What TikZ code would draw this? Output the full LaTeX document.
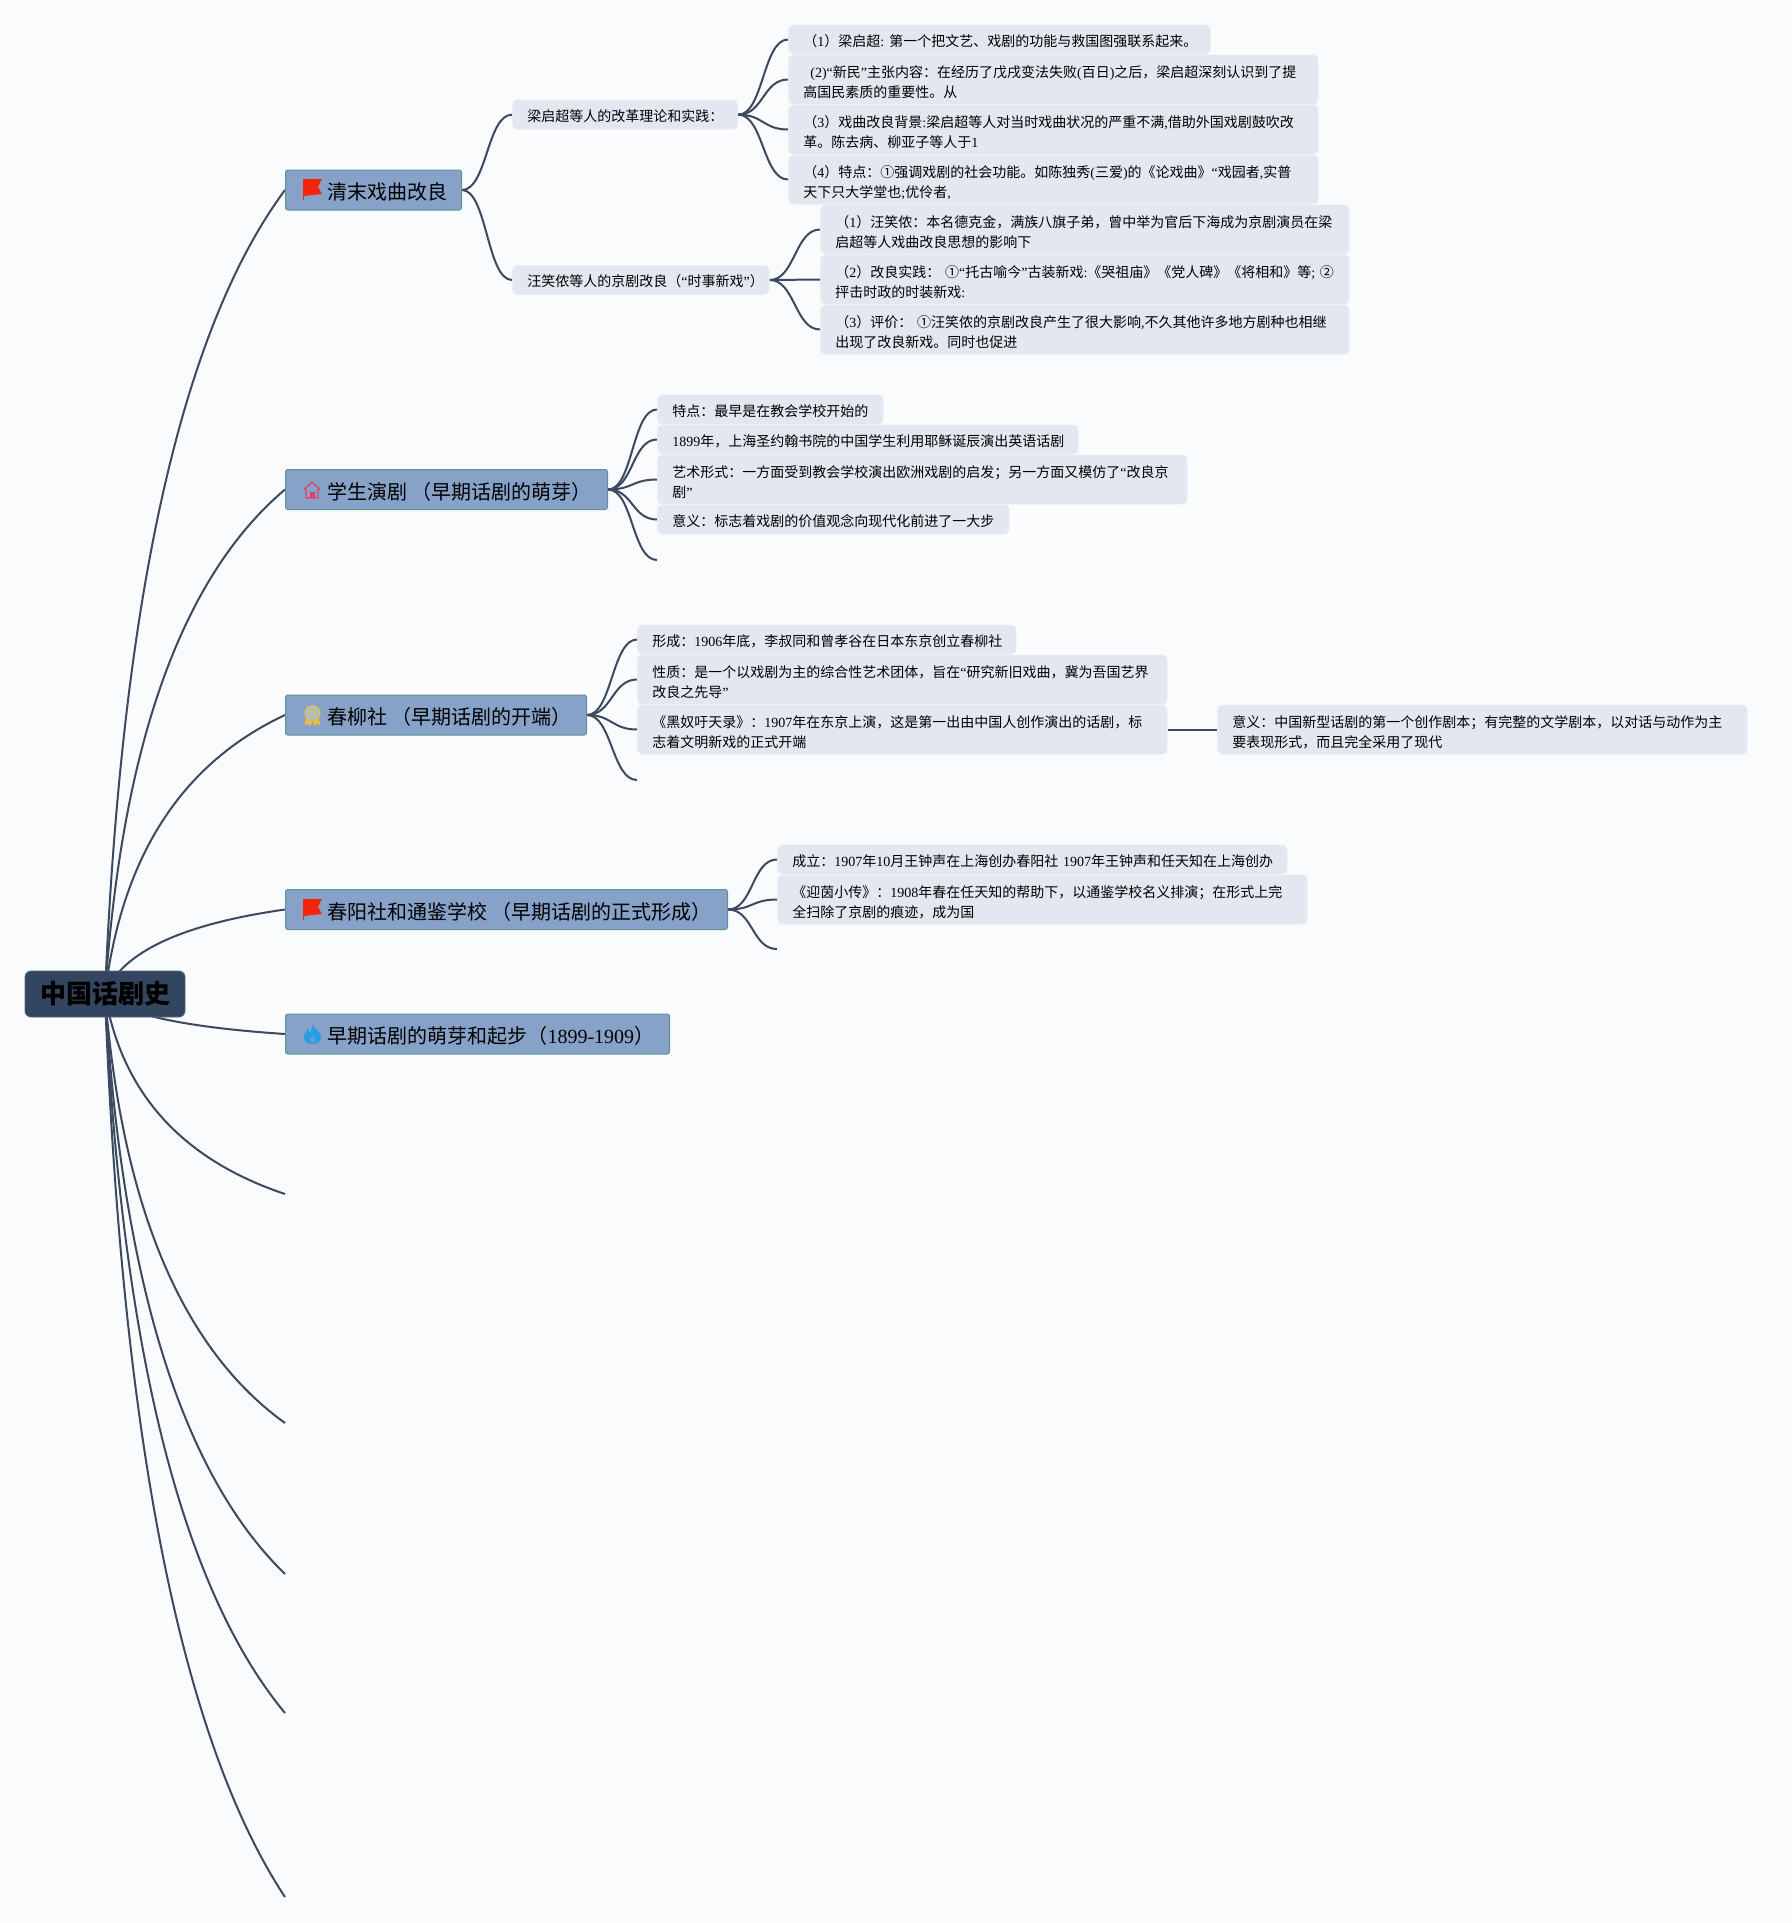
\documentclass[tikz,border=0pt]{standalone}
\usepackage{fontspec}
\setmainfont{Noto Sans CJK SC}
\newfontfamily\latinfont{Liberation Serif}
\usetikzlibrary{calc,backgrounds}
\newcommand{\lat}[1]{{\latinfont #1}}
\definecolor{pagefill}{HTML}{FAFBFC}
\definecolor{rootfill}{HTML}{34465F}
\definecolor{rootedge}{HTML}{4F6A7C}
\definecolor{stagefill}{HTML}{86A2C8}
\definecolor{stageedge}{HTML}{5E9494}
\definecolor{leaffill}{HTML}{E2E7F0}
\definecolor{linkcol}{HTML}{3B4A60}
\definecolor{flagred}{HTML}{F5240F}
\definecolor{housepink}{HTML}{E0406A}
\definecolor{medalgold}{HTML}{E6BE48}
\definecolor{flameblue}{HTML}{2A9BE8}
\tikzset{
  rootbox/.style={fill=rootfill, draw=rootedge, line width=0.4pt, rounded corners=3pt, inner sep=0pt,
    minimum width=80pt, minimum height=23pt, font=\fontsize{13}{15}\selectfont\bfseries},
  stagebox/.style={anchor=west, fill=stagefill, draw=stageedge, line width=0.5pt, rounded corners=1.2pt, inner sep=0pt,
    minimum height=20pt, text width=(#1-1)*0.5pt, align=left, font=\fontsize{10}{12}\selectfont,
    execute at begin node={\rule{0pt}{10.5pt}\hspace*{21pt}}},
  leafbox/.style={anchor=west, fill=leaffill, rounded corners=2.5pt, inner xsep=7.5pt, inner ysep=0pt,
    minimum height=14.75pt, text width=(#1-30)*0.5pt, align=left, font=\fontsize{7}{10}\selectfont,
    execute at begin node={\rule{0pt}{7.6pt}}},
  tallbox/.style={leafbox=#1, minimum height=24.75pt, execute at begin node={\rule{0pt}{8.7pt}}},
  linkline/.style={draw=linkcol, line width=1pt},
  flagicon/.pic={
    \draw[flagred, line width=0.4pt] (0,0) -- (0,21);
    \fill[flagred] (0,0) -- (19,0) -- (15,8) -- (19,15) -- (0,17) -- cycle;
  },
  houseicon/.pic={
    \draw[housepink, line width=0.6pt, line join=round] (2,8) -- (2,17) -- (14,17) -- (14,8) (0,8.5) -- (8,1) -- (16,8.5);
    \fill[housepink] (5.5,11) rectangle (10.5,17);
  },
  medalicon/.pic={
    \fill[medalgold] (-6,4) -- (-8,12) -- (-4,11) -- (-2,13) -- (0,7) -- (2,13) -- (4,11) -- (8,12) -- (6,4) -- cycle;
    \fill[pagefill!30!stagefill] (0,0) circle (7.5);
    \draw[medalgold, line width=0.6pt] (0,0) circle (7.5) (0,0) circle (3.5);
  },
  flameicon/.pic={
    \fill[flameblue] (9,0) .. controls (10,5) and (17,8) .. (17,13) .. controls (17,18) and (13,20) .. (8.5,20)
      .. controls (3,20) and (0,17) .. (0,13) .. controls (0,9) and (3,8) .. (4,5)
      .. controls (5,7) and (6,8) .. (6,9) .. controls (8,6) and (8,3) .. (9,0) -- cycle;
    \fill[stagefill!50!flameblue] (9,11) .. controls (10,13) and (12,14) .. (12,16) .. controls (12,18) and (10,19) .. (8.5,19)
      .. controls (6,19) and (5,18) .. (5,16) .. controls (5,14) and (8,13) .. (9,11) -- cycle;
  },
}
\begin{document}
\begin{tikzpicture}[x=0.5pt, y=-0.5pt]
\useasboundingbox (0,0) rectangle (1792,1923);

% root and stages
\node[rootbox] (root) at (105,994) {\raisebox{-1pt}{中国话剧史}};
\node[stagebox=177] (st1) at (285,190) {清末戏曲改良};
\node[stagebox=323] (st2) at (285,489.5) {学生演剧 \hspace{-1.2pt}（早期话剧的萌芽）};
\node[stagebox=302] (st3) at (285,715) {春柳社 \hspace{-1.2pt}（早期话剧的开端）};
\node[stagebox=443] (st4) at (285,909.5) {春阳社和通鉴学校 \hspace{-1.2pt}（早期话剧的正式形成）};
\node[stagebox=385] (st5) at (285,1034) {早期话剧的萌芽和起步（\lat{1899-1909}）};
\coordinate (st6) at (285,1194);
\coordinate (st7) at (285,1423);
\coordinate (st8) at (285,1574);
\coordinate (st9) at (285,1713);
\coordinate (st10) at (285,1897);

% icons
\pic at (303,179) {flagicon};
\pic at (304,481) {houseicon};
\pic at (312.5,713) {medalicon};
\pic at (303,899) {flagicon};
\pic at (304,1024) {flameicon};

% first stage
\node[leafbox=225.5] (reform) at (512,114.7) {梁启超等人的改革理论和实践：};
\node[leafbox=257] (wang) at (512,280) {汪笑侬等人的京剧改良（\lat{“}时事新戏\lat{”}）};
\node[leafbox=422] (ra) at (788,39.5) {\mbox{（\lat{1}）梁启超\lat{: }\hspace{-1pt}第一个把文艺、戏剧的功能与救国图强联系起来。}};
\node[tallbox=530] (rb) at (788,79.5) {\hspace*{3.5pt}\lat{(2)“}新民\lat{”}主张内容：在经历了戊戌变法失败\lat{(}百日\lat{)}之后，梁启超深刻认识到了提\\高国民素质的重要性。从};
\node[tallbox=530] (rc) at (788,129.5) {（\lat{3}）戏曲改良背景\lat{:}梁启超等人对当时戏曲状况的严重不满\lat{,}借助外国戏剧鼓吹改\\革。陈去病、柳亚子等人于\lat{1}};
\node[tallbox=530] (rd) at (788,179.5) {（\lat{4}）特点：①强调戏剧的社会功能。如陈独秀\lat{(}三爱\lat{)}的《论戏曲》\lat{“}戏园者\lat{,}实普\\天下只大学堂也\lat{;}优伶者\lat{,}};
\node[tallbox=529] (wa) at (820,229.5) {（\lat{1}）汪笑侬：本名德克金，满族八旗子弟，曾中举为官后下海成为京剧演员在梁\\启超等人戏曲改良思想的影响下};
\node[tallbox=529] (wb) at (820,279.5) {\mbox{（\lat{2}）改良实践： ①\lat{“}托古喻今\lat{”}古装新戏\lat{:}《哭祖庙》《党人碑》《将相和》等\lat{;} ②}\\抨击时政的时装新戏\lat{:}};
\node[tallbox=529] (wc) at (820,329.5) {\mbox{（\lat{3}）评价： ①汪笑侬的京剧改良产生了很大影响\lat{,}不久其他许多地方剧种也相继}\\出现了改良新戏。同时也促进};

% second stage
\node[leafbox=226] (sa) at (657,409.5) {特点：最早是在教会学校开始的};
\node[leafbox=421] (sb) at (657,439.5) {\lat{1899}年，上海圣约翰书院的中国学生利用耶稣诞辰演出英语话剧};
\node[tallbox=530] (sc) at (657,479.5) {艺术形式：一方面受到教会学校演出欧洲戏剧的启发；另一方面又模仿了\lat{“}改良京\\剧\lat{”}};
\node[leafbox=352] (sd) at (657,519.5) {意义：标志着戏剧的价值观念向现代化前进了一大步};
\coordinate (se) at (657,560);

% third stage
\node[leafbox=379] (ca) at (637,639.5) {形成：\lat{1906}年底，李叔同和曾孝谷在日本东京创立春柳社};
\node[tallbox=530] (cb) at (637,679.5) {性质：是一个以戏剧为主的综合性艺术团体，旨在\lat{“}研究新旧戏曲，冀为吾国艺界\\改良之先导\lat{”}};
\node[tallbox=530] (cc) at (637,729.5) {《黑奴吁天录》：\lat{1907}年在东京上演，这是第一出由中国人创作演出的话剧，标\\志着文明新戏的正式开端};
\coordinate (cd) at (637,780);
\node[tallbox=530] (cx) at (1217,729.5) {意义：中国新型话剧的第一个创作剧本；有完整的文学剧本，以对话与动作为主\\要表现形式，而且完全采用了现代};

% fourth stage
\node[leafbox=510] (da) at (777,859.5) {\mbox{成立：\lat{1907}年\lat{10}月王钟声在上海创办春阳社 \lat{1907}年王钟声和任天知在上海创办}};
\node[tallbox=530] (db) at (777,899.5) {《迎茵小传》：\lat{1908}年春在任天知的帮助下，以通鉴学校名义排演；在形式上完\\全扫除了京剧的痕迹，成为国};
\coordinate (dc) at (777,949);

% links go behind the boxes
\begin{scope}[on background layer]
\fill[pagefill] (0,0) rectangle (1792,1923);
\coordinate (ctlx) at (130,0);
\foreach \tgt in {st1,st2,st3,st4,st5,st6,st7,st8,st9,st10} {
  \path ($(root.center)!.74!(\tgt.west)$) coordinate (mid);
  \path (ctlx |- mid) coordinate (ctl);
  \draw[linkline] (root.center) .. controls ($(root.center)!.667!(ctl)$) and ($(\tgt.west)!.667!(ctl)$) .. (\tgt.west);
}
\foreach \src/\tgt in {st1/reform,st1/wang,reform/ra,reform/rb,reform/rc,reform/rd,wang/wa,wang/wb,wang/wc,
    st2/sa,st2/sb,st2/sc,st2/sd,st2/se,st3/ca,st3/cb,st3/cc,st3/cd,cc/cx,st4/da,st4/db,st4/dc}
  \draw[linkline] (\src.east) .. controls +(25,0) and +(-25,0) .. (\tgt.west);
\end{scope}
\end{tikzpicture}
\end{document}
